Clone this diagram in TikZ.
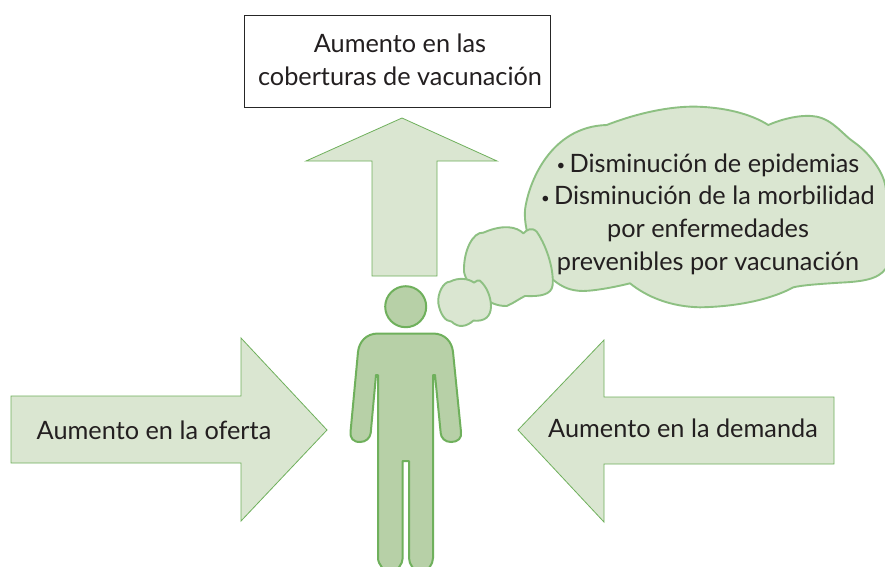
\documentclass[tikz,border=0pt]{standalone}
\usepackage{fontspec}
\setmainfont{Lato}
\definecolor{paleg}{HTML}{DAE6D1}
\definecolor{midg}{HTML}{B7D0A7}
\definecolor{lineg}{HTML}{6FB05C}
\definecolor{cloudl}{HTML}{8DC082}
\definecolor{inkc}{HTML}{231F20}
\newcommand{\smallbul}{{\fontsize{15}{15}\selectfont\raisebox{1.5pt}{\textbullet}}\,}
\tikzset{
  arrowshape/.style={fill=paleg,draw=lineg,line width=0.8pt,line join=miter},
  cloudshape/.style={fill=paleg,draw=cloudl,line width=1.9pt,line join=round},
  personshape/.style={fill=midg,draw=lineg,line width=2pt,line join=round},
  txt/.style={text=inkc,font=\fontsize{25.3}{32.6}\selectfont,align=center,inner sep=0pt}
}
\begin{document}
\begin{tikzpicture}[x=1pt,y=-1pt]
\useasboundingbox (0,0) rectangle (885,566);
\fill[white] (0,0) rectangle (885,566);
% arrows
\draw[arrowshape] (402,118) -- (497,161) -- (437,161) -- (437,276) -- (372,276) -- (372,161) -- (306,161) -- cycle;
\draw[arrowshape] (327,430) -- (241,338) -- (241,396) -- (11,396) -- (11,463) -- (241,463) -- (241,521) -- cycle;
\draw[arrowshape] (518,430) -- (604,340) -- (604,397) -- (834,397) -- (834,464) -- (604,464) -- (604,522) -- cycle;
% top box
\node[draw=black!85,line width=0.9pt,fill=white,minimum width=306pt,minimum height=92pt,inner sep=0pt,anchor=north west] (boxtop) at (244,15) {};
\node[txt] (boxtext) at (400,60) {Aumento en las\\coberturas de vacunación};
% clouds
\begin{scope}[shift={(430,90)},x=0.3333pt,y=-0.3333pt]
\draw[cloudshape] (370,570) .. controls (320,520) and (280,430) .. (285,360)
  .. controls (295,280) and (360,110) .. (530,105)
  .. controls (620,70) and (720,48) .. (800,50)
  .. controls (880,52) and (960,70) .. (1015,105)
  .. controls (1060,85) and (1120,72) .. (1160,80)
  .. controls (1210,90) and (1240,135) .. (1270,155)
  .. controls (1320,190) and (1365,250) .. (1368,300)
  .. controls (1368,350) and (1372,480) .. (1368,535)
  .. controls (1345,570) and (1290,575) .. (1230,578)
  .. controls (1170,582) and (1120,585) .. (1090,592)
  .. controls (1030,625) and (930,650) .. (810,652)
  .. controls (720,650) and (650,620) .. (600,580)
  .. controls (560,590) and (500,602) .. (460,603)
  .. controls (420,603) and (395,590) .. (370,570) -- cycle;
\draw[cloudshape] (280,430) .. controls (260,410) and (220,402) .. (160,428)
  .. controls (130,425) and (100,480) .. (102,545)
  .. controls (110,590) and (170,650) .. (230,648)
  .. controls (250,640) and (270,625) .. (285,618)
  .. controls (330,620) and (365,615) .. (368,585)
  .. controls (372,530) and (345,460) .. (320,425)
  .. controls (305,410) and (290,420) .. (280,430) -- cycle;
\draw[cloudshape] (132,578) .. controls (115,565) and (85,562) .. (60,575)
  .. controls (40,575) and (22,610) .. (25,640)
  .. controls (30,670) and (45,695) .. (65,695)
  .. controls (85,715) and (110,710) .. (130,692)
  .. controls (165,695) and (182,680) .. (183,650)
  .. controls (183,620) and (170,590) .. (150,572)
  .. controls (145,570) and (138,572) .. (132,578) -- cycle;
\end{scope}
\node[txt] (cloudtext) at (708,214) {\smallbul Disminución de epidemias\\\smallbul Disminución de la morbilidad\\por enfermedades\\prevenibles por vacunación};
% person
\node[circle,personshape,minimum size=41pt,inner sep=0pt] (head) at (405.7,306.7) {};
\draw[personshape] (378,333.5) -- (433,333.5)
  .. controls (445,333.5) and (452,342) .. (453,352)
  -- (461,432) .. controls (462,438) and (458,442) .. (451,442)
  .. controls (445,442) and (441,438) .. (440.7,433)
  -- (435,375) -- (433,375) -- (433,558)
  .. controls (433,564) and (428,572) .. (421,572)
  .. controls (414,572) and (409,564) .. (409,558)
  -- (409,461) -- (402.7,461) -- (402.7,558)
  .. controls (402.7,564) and (397,572) .. (390.5,572)
  .. controls (384,572) and (378,564) .. (378,558)
  -- (378,375) -- (376,375) -- (370.7,433)
  .. controls (370,438) and (366,442) .. (360,442)
  .. controls (353,442) and (350,438) .. (350.5,432)
  -- (358,352) .. controls (359,342) and (366,333.5) .. (378,333.5) -- cycle;
% arrow labels
\node[txt] (offer) at (154,430) {Aumento en la oferta};
\node[txt] (demand) at (683,428) {Aumento en la demanda};
\end{tikzpicture}
\end{document}
